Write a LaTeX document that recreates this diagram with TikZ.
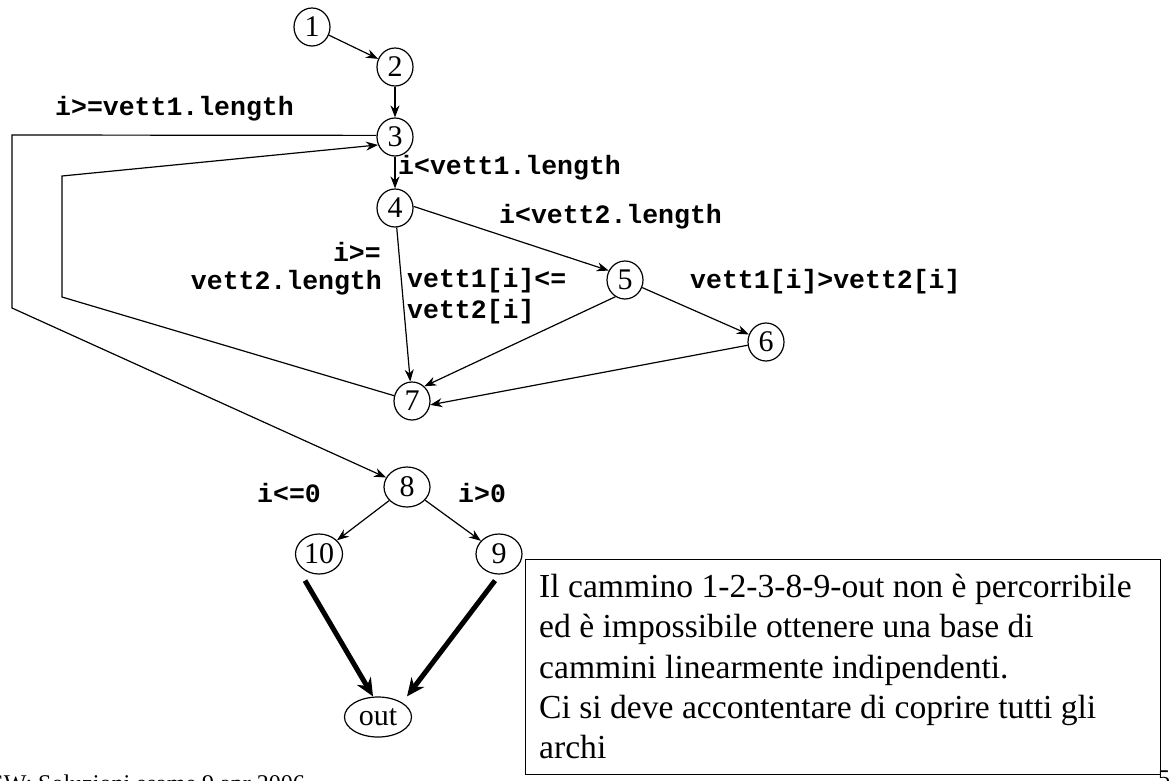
\documentclass[tikz,border=0pt]{standalone}
\usepackage{fontspec}
\setmainfont{Liberation Serif}
\setmonofont{Liberation Mono}
\usetikzlibrary{arrows.meta,shapes.geometric}
\begin{document}
\begin{tikzpicture}[x=1pt,y=-1pt,
  nd/.style={draw, ellipse, line width=1.2pt, inner sep=0pt, minimum width=36pt, minimum height=38pt, font=\fontsize{30}{30}\selectfont},
  wd/.style={nd, minimum width=46pt, minimum height=40pt},
  lbl/.style={font=\fontsize{26.5}{32}\selectfont\ttfamily\bfseries, inner sep=0pt},
  arr/.style={line width=1.2pt, -{Stealth[length=12pt,width=9pt]}},
  thk/.style={line width=5pt, -{Stealth[length=18pt,width=16pt]}},
  small/.style={inner sep=0pt, font=\fontsize{24}{24}\selectfont}]
\useasboundingbox (0,0) rectangle (1169,780);
\fill[white] (0,0) rectangle (1169,780);

% nodes
\node[nd] (n1) at (312,27) {1};
\node[nd] (n2) at (395,67) {2};
\node[nd] (n3) at (395,137) {3};
\node[nd] (n4) at (395,208) {4};
\node[nd] (n5) at (625,280) {5};
\node[nd] (n6) at (766,342) {6};
\node[nd] (n7) at (412,401) {7};
\node[wd] (n8) at (407,487) {8};
\node[wd, minimum width=47pt] (n10) at (319,554) {10};
\node[wd] (n9) at (499,554) {9};
\node[nd, minimum width=67pt, minimum height=40pt] (out) at (378,717) {out};

% bend points
\coordinate (a1) at (12,135);
\coordinate (a2) at (12,308);
\coordinate (b1) at (62,297);
\coordinate (b2) at (62,176);

% edges
\draw[arr] (n1) -- (n2);
\draw[arr] (n2) -- (n3);
\draw[arr] (n3) -- (n4);
\draw[arr] (n3.175) -- (a1) -- (a2) -- (n8);
\draw[arr] (n7) -- (b1) -- (b2) -- (n3.205);
\draw[arr] (n4.5) -- (n5.150);
\draw[arr] (n4) -- (n7);
\draw[arr] (n5.240) -- (n7.50);
\draw[arr] (n5) -- (n6);
\draw[arr] (n6.190) -- (n7.-12);
\draw[arr] (n8) -- (n10);
\draw[arr] (n8) -- (n9);
\draw[thk] ([shift={(-14pt,-6pt)}]n10.south) -- ([xshift=-5pt]out.north);
\draw[thk] ([shift={(-4pt,-6pt)}]n9.south) -- ([xshift=29pt]out.north);

% labels
\node[lbl, anchor=west] (l1) at (55,109) {i>=vett1.length};
\node[lbl, anchor=west] (l2) at (398,168) {i<vett1.length};
\node[lbl, anchor=west] (l3) at (499,217) {i<vett2.length};
\node[lbl, anchor=east] (l4) at (381,252) {i>=};
\node[lbl, anchor=east] (l5) at (382,283) {vett2.length};
\node[lbl, anchor=west] (l6) at (407,281) {vett1[i]<=};
\node[lbl, anchor=west] (l7) at (407,312) {vett2[i]};
\node[lbl, anchor=west] (l8) at (690,282) {vett1[i]>vett2[i]};
\node[lbl, anchor=west] (l9) at (257,493) {i<=0};
\node[lbl, anchor=west] (l10) at (458,493) {i>0};

% text box
\node[draw, line width=1.2pt, anchor=north west, minimum width=635pt, minimum height=215pt, inner sep=0pt] (box) at (525,559) {};
\node[anchor=north west, align=left, inner sep=0pt, font=\fontsize{33.6}{40.3}\selectfont] (boxtext) at (539,574)
  {Il cammino 1-2-3-8-9-out non è percorribile\\
   ed è impossibile ottenere una base di\\
   cammini linearmente indipendenti.\\
   Ci si deve accontentare di coprire tutti gli\\
   archi};

% footer
\node[small, anchor=base east] (foot) at (305,791) {SW: Soluzioni esame 9 apr 2006};
\node[small, anchor=base west] (pg) at (1158,786) {5};
\end{tikzpicture}
\end{document}
